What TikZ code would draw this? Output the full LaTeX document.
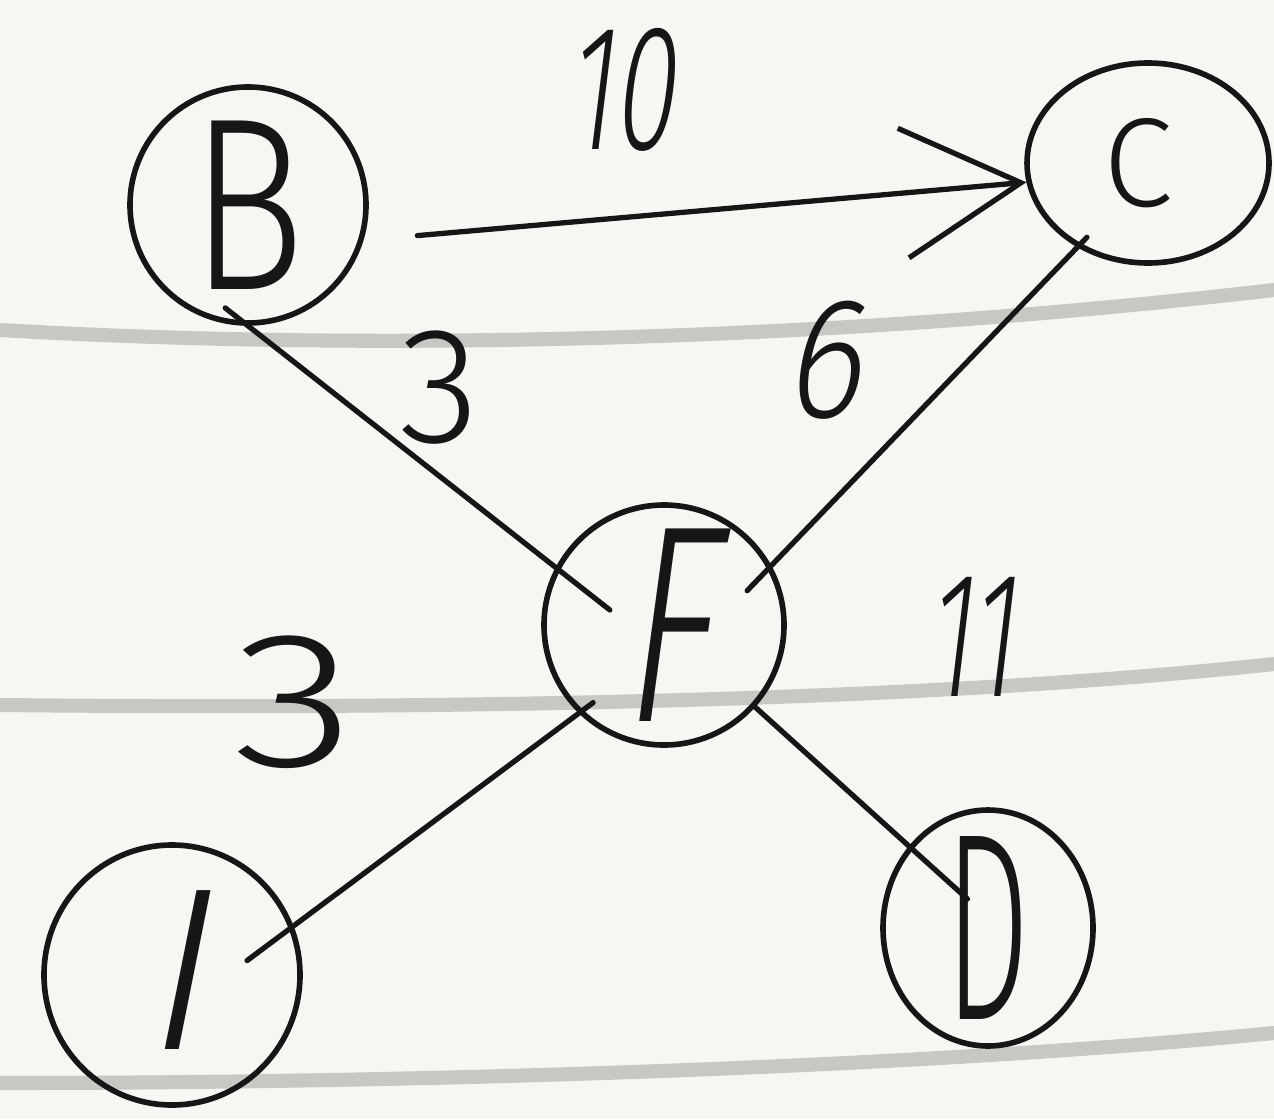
\documentclass[tikz,border=0pt]{standalone}
\usepackage{fontspec}
\usepackage{graphicx}
\usetikzlibrary{arrows.meta,shapes.geometric}
\newfontfamily\hand{Fira Sans Light}
\newfontfamily\handslant[FakeSlant=0.2]{Fira Sans Light}
\definecolor{paper}{RGB}{246,246,243}
\definecolor{ink}{RGB}{22,22,22}
\definecolor{rulegray}{RGB}{160,163,156}
\tikzset{
  vertex/.style={ellipse, draw=ink, line width=1.6pt, inner sep=0pt},
  letter/.style={text=ink, inner sep=0pt},
  edge/.style={draw=ink, line width=1.5pt, line cap=round},
  weight/.style={text=ink, inner sep=0pt},
  ruling/.style={draw=rulegray, line width=4pt, opacity=0.55, line cap=round}
}
\begin{document}
\begin{tikzpicture}
\useasboundingbox (0,0) rectangle (12.74,11.19);
\fill[paper] (0,0) rectangle (12.74,11.19);

% notebook ruling
\draw[ruling] (0,7.89) .. controls (4,7.66) and (8.5,7.80) .. (12.74,8.29);
\draw[ruling] (0,4.14) .. controls (4,4.10) and (9,4.15) .. (12.74,4.55);
\draw[ruling] (0,0.36) .. controls (4,0.36) and (9,0.50) .. (12.74,0.86);

% vertices
\node[vertex, minimum width=2.36cm, minimum height=2.36cm,
  label={[letter]center:{\fontsize{70}{70}\hand\scalebox{0.78}[1]{B}}}] (nB) at (2.48,9.14) {};
\node[vertex, minimum width=2.42cm, minimum height=2.0cm,
  label={[letter, xshift=-0.1cm]center:{\fontsize{36}{36}\hand C}}] (nC) at (11.48,9.56) {};
\node[vertex, minimum width=2.4cm, minimum height=2.4cm,
  label={[letter]center:{\fontsize{80}{80}\handslant\scalebox{0.68}[1]{F}}}] (nF) at (6.64,4.94) {};
\node[vertex, minimum width=2.56cm, minimum height=2.6cm,
  label={[letter, yshift=0.05cm]center:{\fontsize{66}{66}\handslant I}}] (nI) at (1.72,1.44) {};
\node[vertex, minimum width=2.1cm, minimum height=2.36cm,
  label={[letter]center:{\fontsize{76}{76}\hand\scalebox{0.5}[1]{D}}}] (nD) at (9.88,1.91) {};

% weighted edges
\draw[edge, -{Straight Barb[length=1.18cm, width=1.3cm, line width=1.5pt]},
  shorten <=0.54cm] (nB.-17) -- (nC.189);
\draw[edge, shorten <=-0.29cm, shorten >=-0.69cm] (nB.-90) -- (nF.152);
\draw[edge, shorten <=-0.14cm, shorten >=-0.35cm] (nC.230) -- (nF.29);
\draw[edge, shorten <=-0.58cm, shorten >=-0.18cm] (nI.22) -- (nF.226);
\draw[edge, shorten >=-0.79cm] (nF.-42) -- (nD.134);

% weights
\node[weight] (w10) at (6.20,10.29) {\fontsize{51}{51}\handslant\scalebox{0.62}[1]{10}};
\node[weight] (w3a) at (4.40,7.31) {\fontsize{47}{47}\hand 3};
\node[weight] (w6)  at (8.22,7.59) {\fontsize{49}{49}\handslant\scalebox{0.85}[1]{6}};
\node[weight] (w3b) at (2.95,4.17) {\fontsize{55}{55}\hand\scalebox{1.3}[1]{3}};
\node[weight] (w11) at (9.70,4.82) {\fontsize{51}{51}\handslant\scalebox{0.6}[1]{11}};
\end{tikzpicture}
\end{document}
